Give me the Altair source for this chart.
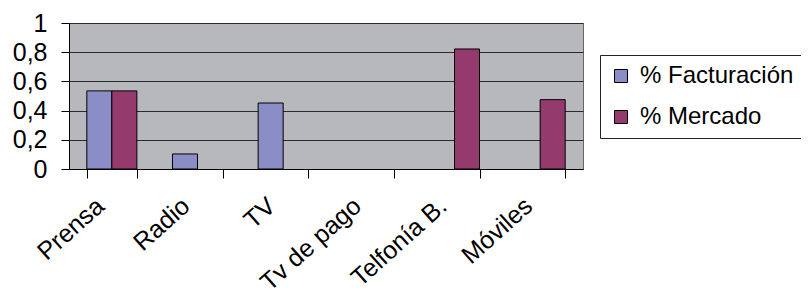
import altair as alt
import pandas as pd

categories = ["Prensa", "Radio", "TV", "Tv de pago", "Telfonía B.", "Móviles"]
series = ["% Facturación", "% Mercado"]
facturacion = [0.535, 0.103, 0.452, None, None, None]
mercado = [0.535, None, None, None, 0.822, 0.475]
y_ticks = [0, 0.2, 0.4, 0.6, 0.8, 1]
colors = ["#8B8DC7", "#953A6D"]

rows = []
for c, f, m in zip(categories, facturacion, mercado):
    if f is not None:
        rows.append({"cat": c, "serie": series[0], "valor": f})
    if m is not None:
        rows.append({"cat": c, "serie": series[1], "valor": m})
df = pd.DataFrame(rows)

FONT = "Liberation Sans"
FS = 25

chart = alt.Chart(df).mark_bar(stroke="black", strokeWidth=1).encode(
    x=alt.X(
        "cat:N",
        sort=categories,
        scale=alt.Scale(domain=categories, paddingInner=0.416, paddingOuter=0.208),
        axis=alt.Axis(
            title=None, labelAngle=-42, labelAlign="right", labelBaseline="top",
            labelOffset=-20, labelPadding=15, tickBand="extent", tickSize=9,
            tickColor="black", domainColor="black", labelFont=FONT,
            labelFontSize=FS, labelColor="black", grid=False,
        ),
    ),
    xOffset=alt.XOffset("serie:N", sort=series,
                        scale=alt.Scale(domain=series, paddingInner=0, paddingOuter=0)),
    y=alt.Y(
        "valor:Q",
        scale=alt.Scale(domain=[0, 1], nice=False),
        axis=alt.Axis(
            title=None, values=y_ticks,
            labelExpr="replace(format(datum.value, '.1~f'), '.', ',')",
            tickSize=8, tickColor="black", domainColor="black",
            gridColor="#2a2a2a", gridWidth=1, labelPadding=14,
            labelFont=FONT, labelFontSize=FS, labelColor="black",
        ),
    ),
    color=alt.Color(
        "serie:N", sort=series, title=None,
        scale=alt.Scale(domain=series, range=colors),
        legend=alt.Legend(
            orient="none", legendX=531, legendY=32, strokeColor="#222",
            fillColor="white", padding=9, symbolType="square", symbolSize=169,
            symbolStrokeColor="black", symbolStrokeWidth=1, labelFont=FONT,
            labelFontSize=24, labelColor="black", rowPadding=17, labelOffset=7,
        ),
    ),
).properties(
    width=514, height=146, autosize="none",
    padding={"left": 61, "top": 15, "right": 218, "bottom": 120},
).configure_view(fill="#B7B8BC", stroke="#666", strokeWidth=1)

chart.save("out.html", embed_options={"renderer": "svg", "actions": False})
